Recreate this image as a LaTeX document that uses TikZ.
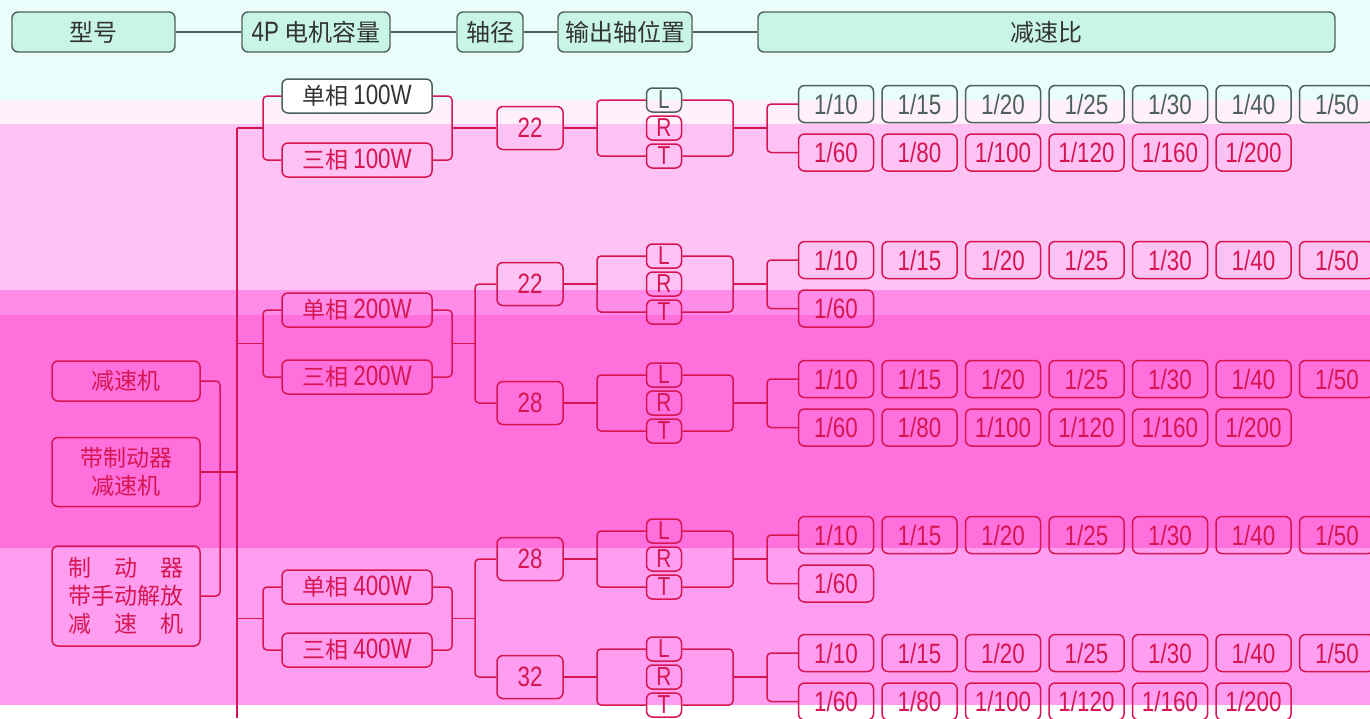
\documentclass[tikz,border=0pt]{standalone}
\usepackage{fontspec}
\setmainfont{Noto Sans CJK SC}
\newfontfamily\narrow{Liberation Sans}[FakeStretch=0.8]
\definecolor{hdfill}{RGB}{200,245,232}
\definecolor{hdline}{RGB}{78,96,88}
\definecolor{hdtext}{RGB}{50,52,50}
\definecolor{rd}{RGB}{214,22,82}
\definecolor{bgcyan}{RGB}{233,254,251}
\definecolor{bgpale}{RGB}{255,240,251}
\definecolor{bglight}{RGB}{255,194,244}
\definecolor{bgmid}{RGB}{255,140,232}
\definecolor{bghot}{RGB}{255,112,220}
\definecolor{bgmag}{RGB}{255,158,240}
\newcommand{\nb}[1]{{\narrow\fontsize{14}{14}\selectfont #1}}
\begin{document}
\begin{tikzpicture}
[
    x=0.5pt, y=-0.5pt,
    every node/.style={font=\fontsize{11.5}{14}\selectfont, inner sep=0pt, align=center},
    head/.style={draw=hdline, fill=hdfill, text=hdtext, line width=0.7pt, rounded corners=3pt,
        minimum height=20pt, font=\fontsize{12}{14}\selectfont},
    box/.style={draw=rd, text=rd, line width=0.75pt, rounded corners=3pt},
    model/.style={box, minimum width=74pt},
    power/.style={box, minimum width=75pt, minimum height=17pt},
    shaft/.style={box, minimum width=33pt, minimum height=21.5pt, font=\narrow\fontsize{14}{14}\selectfont},
    lrt/.style={box, minimum width=17.5pt, minimum height=12pt, font=\narrow\fontsize{13}{13}\selectfont},
    ratio/.style={box, minimum width=37.5pt, minimum height=18.5pt, font=\narrow\fontsize{14}{14}\selectfont},
    wire/.style={draw=rd, line width=0.75pt, rounded corners=2pt},
]
\useasboundingbox (0,0) rectangle (1370,718);
\clip (0,0) rectangle (1370,718);
\fill[bgcyan] (0,0) rectangle (1370,100);
\fill[bgpale] (0,100) rectangle (1370,124);
\fill[bglight] (0,124) rectangle (1370,290);
\fill[bgmid] (0,290) rectangle (1370,315);
\fill[bghot] (0,315) rectangle (1370,548);
\fill[bgmag] (0,548) rectangle (1370,705);
\fill[white] (0,705) rectangle (1370,718);

\node[head, minimum width=81.5pt] (hModel) at (93.5,32) {型号};
\node[head, minimum width=74pt] (hPower) at (316,32) {\nb{4P} 电机容量};
\node[head, minimum width=33pt] (hShaft) at (490,32) {轴径};
\node[head, minimum width=67pt] (hPos) at (625,32) {输出轴位置};
\node[head, minimum width=288.5pt] (hRatio) at (1046.5,32) {减速比};
\draw[hdline, line width=0.7pt] (hModel) -- (hPower) -- (hShaft) -- (hPos) -- (hRatio);

\node[model, minimum height=20pt] (mA) at (126,381) {减速机};
\node[model, minimum height=34.5pt] (mB) at (126,472) {带制动器\\减速机};
\node[model, minimum height=50pt] (mC) at (126,596) {制　动　器\\带手动解放\\减　速　机};

\node[power, draw=hdline, fill=white, text=hdtext] (p1s) at (357,96) {单相 \nb{100W}};
\node[power] (p1t) at (357,160) {三相 \nb{100W}};
\node[power] (p2s) at (357,310) {单相 \nb{200W}};
\node[power] (p2t) at (357,377) {三相 \nb{200W}};
\node[power] (p4s) at (357,587) {单相 \nb{400W}};
\node[power] (p4t) at (357,650) {三相 \nb{400W}};

\coordinate (mj) at (220,472);
\coordinate (mbus) at (237,472);
\coordinate (bus1) at (237,128);
\coordinate (bus2) at (237,343.5);
\coordinate (bus4) at (237,618.5);
\coordinate (busEnd) at (237,718);
\draw[wire] (mA) -| (mj) |- (mC);
\draw[wire] (mB) -- (mbus);
\draw[wire] (bus1) -- (busEnd);

\coordinate (bj1) at (263,128);
\coordinate (bj2) at (263,343.5);
\coordinate (bj4) at (263,618.5);
\coordinate (pj1) at (452,128);
\coordinate (pj2) at (452,343.5);
\coordinate (pj4) at (452,618.5);
\coordinate (sj2) at (475,343.5);
\coordinate (sj4) at (475,618.5);
\draw[wire] (p1s) -| (bj1) |- (p1t);
\draw[wire] (p2s) -| (bj2) |- (p2t);
\draw[wire] (p4s) -| (bj4) |- (p4t);
\draw[wire] (bus1) -- (bj1);
\draw[wire] (bus2) -- (bj2);
\draw[wire] (bus4) -- (bj4);
\draw[wire] (p1s) -| (pj1) |- (p1t);
\draw[wire] (p2s) -| (pj2) |- (p2t);
\draw[wire] (p4s) -| (pj4) |- (p4t);

\foreach \g/\y/\d/\n/\sc in {s1/128/22/6/hdline, s2a/284/22/1/rd, s2b/403/28/6/rd, s4a/559/28/1/rd, s4b/677/32/6/rd}
{
    \node[shaft] (\g) at (530,\y) {\d};
    \node[lrt, draw=\sc, text=\sc] (\g-L) at (664,\y-28) {L};
    \node[lrt] (\g-R) at (664,\y) {R};
    \node[lrt] (\g-T) at (664,\y+28) {T};
    \foreach \r [count=\i] in {10,15,20,25,30,40,50}
        \node[ratio, draw=\sc, text=\sc] (\g-a\i) at ({836+83.5*(\i-1)},{\y-24}) {1/\r};
    \foreach \r [count=\i] in {60,80,100,120,160,200}
        {\ifnum\i>\n\else\node[ratio] (\g-b\i) at ({836+83.5*(\i-1)},{\y+24.5}) {1/\r};\fi}
    \coordinate (\g-j1) at (597,\y);
    \coordinate (\g-j2) at (733,\y);
    \coordinate (\g-j3) at (767,\y);
    \draw[wire] (\g) -- (\g-j1);
    \draw[wire] (\g-L) -| (\g-j1) |- (\g-T);
    \draw[wire] (\g-L) -| (\g-j2) |- (\g-T);
    \draw[wire] (\g-j2) -- (\g-j3);
    \draw[wire] (\g-a1) -| (\g-j3) |- (\g-b1);
}
\draw[wire] (pj1) -- (s1);
\draw[wire] (pj2) -- (sj2);
\draw[wire] (pj4) -- (sj4);
\draw[wire] (s2a) -| (sj2) |- (s2b);
\draw[wire] (s4a) -| (sj4) |- (s4b);
\end{tikzpicture}
\end{document}
